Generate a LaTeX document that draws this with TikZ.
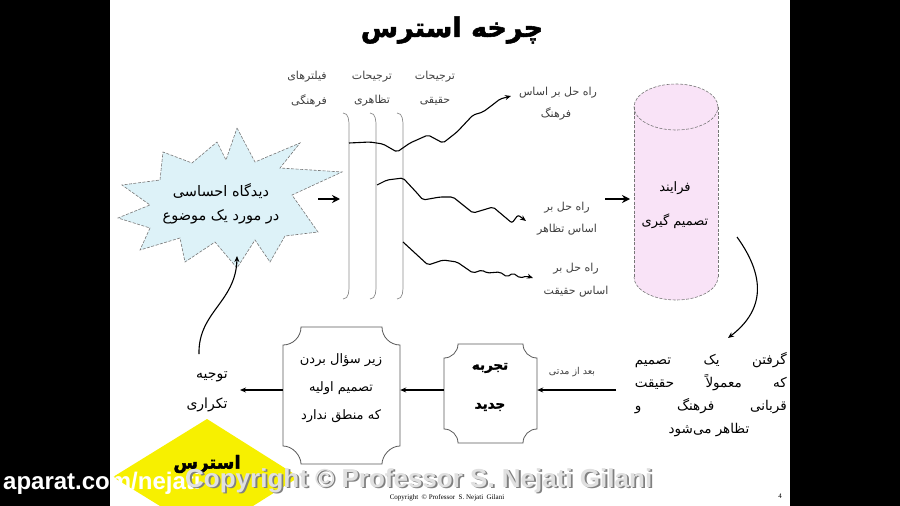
\documentclass[tikz,border=0pt]{standalone}
\usepackage{fontspec}
\usetikzlibrary{arrows.meta,shapes.geometric}
\TeXXeTstate=1
\newfontfamily\fa[Script=Arabic]{DejaVu Sans}
\newfontfamily\faheavy[Script=Arabic,FakeBold=2]{DejaVu Sans Bold}
\newfontfamily\wmfont{Liberation Sans}
\newfontfamily\ftfont{Liberation Serif}
\newcommand\myR[1]{\beginR #1\endR}
\definecolor{starfill}{HTML}{DDF2F8}
\definecolor{cylfill}{HTML}{F9E3F7}
\definecolor{diay}{HTML}{F7F000}
\definecolor{edgegray}{HTML}{777777}
\begin{document}
\begin{tikzpicture}[x=1pt,y=-1pt,
  fatxt/.style={font=\fa\fontsize{#1}{#1}\selectfont, inner sep=0pt, text=black},
  fatxt/.default=10,
  graytxt/.style={font=\fa\fontsize{#1}{#1}\selectfont, inner sep=0pt, text=black!75},
  graytxt/.default=11,
  bigarrow/.style={line width=2.2pt, -{Stealth[length=8pt,width=8pt]}},
  thinarrow/.style={line width=1.1pt, -{Stealth[length=6pt,width=5pt]}},
  wave/.style={line width=1.1pt, rounded corners=2pt, -{Stealth[length=6pt,width=5pt]}},
  filterline/.style={draw=black!45, line width=0.7pt},
  outlinegray/.style={draw=edgegray, line width=0.6pt, dashed, dash pattern=on 3pt off 1.5pt}
]
\useasboundingbox (0,0) rectangle (900,506);
% frame
\fill[black] (0,0) rectangle (900,506);
\fill[white] (110,0) rectangle (790,506);

% title
\node[font=\faheavy\fontsize{27}{30}\selectfont, inner sep=0pt] (title) at (452,30) {\myR{چرخه استرس}};

% starburst
\path[fill=starfill, outlinegray]
 (237,128) -- (255,162) -- (300,143) -- (280,168) -- (342,172) -- (292,195)
 -- (318,232) -- (285,236) -- (270,262) -- (255,240) -- (237,268) -- (215,242)
 -- (185,262) -- (180,238) -- (140,250) -- (150,228) -- (118,218) -- (150,205)
 -- (122,185) -- (160,180) -- (163,152) -- (192,163) -- (217,142) -- (226,160) -- cycle;
\node[fatxt=14.5] (star1) at (221,191) {\myR{دیدگاه احساسی}};
\node[fatxt=14.5] (star2) at (221,217) {\myR{در مورد یک موضوع}};
\coordinate (starR) at (318,199);
\coordinate (starB) at (237,256);

% filter labels
\node[graytxt] (f1a) at (435,77) {\myR{ترجیحات}};
\node[graytxt] (f1b) at (435,101) {\myR{حقیقی}};
\node[graytxt] (f2a) at (372,77) {\myR{ترجیحات}};
\node[graytxt] (f2b) at (372,101) {\myR{تظاهری}};
\node[graytxt] (f3a) at (307,77) {\myR{فیلترهای}};
\node[graytxt] (f3b) at (309,101) {\myR{فرهنگی}};

% filter lines
\foreach \xx in {349,376,403}{
  \draw[filterline] (\xx-6,113) to[out=0,in=90] (\xx,127) -- (\xx,284) to[out=-90,in=0] (\xx-6,299);
}
\coordinate (filtL) at (340,199);
\draw[bigarrow] (starR) -- (filtL);

% waves
\coordinate (w1s) at (349,143);
\coordinate (w1e) at (511,96);
\coordinate (w2s) at (377,185);
\coordinate (w2e) at (526,221);
\coordinate (w3s) at (403,242);
\coordinate (w3e) at (533,278);
\draw[wave] (w1s) -- (370,142) -- (383,144) -- (397,152) -- (410,143) -- (428,135) -- (443,143)
  -- (457,132) -- (473,115) -- (483,112) -- (495,103) -- (500,99) -- (w1e);
\draw[wave] (w2s) -- (387,180) -- (403,178) -- (417,193) -- (423,200) -- (440,197) -- (453,197)
  -- (473,213) -- (493,207) -- (512,223) -- (518,215) -- (w2e);
\draw[wave] (w3s) -- (428,265) -- (443,260) -- (457,262) -- (473,273) -- (482,270) -- (487,273)
  -- (500,272) -- (507,277) -- (513,273) -- (520,278) -- (527,276) -- (w3e);

% solution labels
\node[graytxt] (s1a) at (558,93) {\myR{راه حل بر اساس}};
\node[graytxt] (s1b) at (556,114) {\myR{فرهنگ}};
\node[graytxt] (s2a) at (567,208) {\myR{راه حل بر}};
\node[graytxt] (s2b) at (567,230) {\myR{اساس تظاهر}};
\node[graytxt] (s3a) at (576,269) {\myR{راه حل بر}};
\node[graytxt] (s3b) at (576,292) {\myR{اساس حقیقت}};

% cylinder
\fill[cylfill] (634,107) rectangle (718,277);
\fill[cylfill] (676,277) ellipse [x radius=42pt, y radius=23pt];
\fill[cylfill] (676,107) ellipse [x radius=42pt, y radius=23pt];
\draw[outlinegray] (676,107) ellipse [x radius=42pt, y radius=23pt];
\draw[outlinegray] (634,107) -- (634,277);
\draw[outlinegray] (718,107) -- (718,277);
\begin{scope}
  \clip (620,277) rectangle (730,310);
  \draw[outlinegray] (676,277) ellipse [x radius=42pt, y radius=23pt];
\end{scope}
\node[fatxt=13] (cyl1) at (675,188) {\myR{فرایند}};
\node[fatxt=13] (cyl2) at (675,221) {\myR{تصمیم گیری}};
\coordinate (cylL) at (630,199);
\coordinate (solR) at (605,199);
\draw[bigarrow] (solR) -- (cylL);
\coordinate (cylR) at (737,237);

% right paragraph
\node[fatxt=13.5, anchor=east] (p1) at (787,360) {\hbox to 152pt{\myR{گرفتن\hfill یک\hfill تصمیم}}};
\node[fatxt=13.5, anchor=east] (p2) at (787,383) {\hbox to 152pt{\myR{که\hfill معمولاً\hfill حقیقت}}};
\node[fatxt=13.5, anchor=east] (p3) at (787,406) {\hbox to 152pt{\myR{قربانی\hfill فرهنگ\hfill و}}};
\node[fatxt=13.5] (p4) at (709,430) {\myR{تظاهر می‌شود}};
\coordinate (paraT) at (728,338);
\draw[line width=1.1pt, -{Stealth[length=6pt,width=5pt]}] (cylR) .. controls (768,280) and (762,312) .. (paraT);

% after a while
\node[graytxt=9.5] (after) at (572,372) {\myR{بعد از مدتی}};
\coordinate (paraL) at (616,390);

% experience box
\node[minimum width=93pt, minimum height=99pt, inner sep=0pt] (exp) at (490.5,393.5) {};
\draw[draw=black!65, line width=0.8pt, fill=white]
 (458,344) -- (523,344) .. controls (523,351.7) and (529.3,358) .. (537,358) -- (537,429)
 .. controls (529.3,429) and (523,435.3) .. (523,443) -- (458,443)
 .. controls (458,435.3) and (451.7,429) .. (444,429) -- (444,358)
 .. controls (451.7,358) and (458,351.7) .. (458,344) -- cycle;
\node[font=\faheavy\fontsize{13.5}{14}\selectfont, inner sep=0pt] (exp1) at (490,368) {\myR{تجربه}};
\node[font=\faheavy\fontsize{13.5}{14}\selectfont, inner sep=0pt] (exp2) at (490,407) {\myR{جدید}};
\draw[thinarrow] (paraL) -- (exp.east |- paraL);

% question box
\node[minimum width=117pt, minimum height=137pt, inner sep=0pt] (qbox) at (341.5,395.5) {};
\draw[draw=black!65, line width=0.8pt, fill=white]
 (301,327) -- (382,327) .. controls (382,336.9) and (390.1,345) .. (400,345) -- (400,446)
 .. controls (390.1,446) and (382,455.9) .. (382,464) -- (301,464)
 .. controls (301,455.9) and (292.9,446) .. (283,446) -- (283,345)
 .. controls (292.9,345) and (301,336.9) .. (301,327) -- cycle;
\node[fatxt=13] (q1) at (341,360) {\myR{زیر سؤال بردن}};
\node[fatxt=13] (q2) at (341,388) {\myR{تصمیم اولیه}};
\node[fatxt=13] (q3) at (341,416) {\myR{که منطق ندارد}};
\draw[thinarrow] (exp.west |- paraL) -- (qbox.east |- paraL);

% justification
\node[fatxt=14] (j1) at (212,377) {\myR{توجیه}};
\node[fatxt=14] (j2) at (207,405) {\myR{تکراری}};
\coordinate (jR) at (240,390);
\draw[thinarrow] (qbox.west |- paraL) -- (jR);
\coordinate (jT) at (199,354);
\draw[line width=1.1pt, -{Stealth[length=6pt,width=5pt]}] (jT) .. controls (198,312) and (236,302) .. (starB);

% stress diamond
\fill[diay] (207,419) -- (299,477) -- (207,535) -- (113,477) -- cycle;
\node[font=\faheavy\fontsize{18}{20}\selectfont, inner sep=0pt] (stress) at (207,464) {\myR{استرس}};

% footer
\node[font=\ftfont\fontsize{7}{8}\selectfont, inner sep=0pt] (foot) at (447,498) {Copyright \ © Professor \ S. Nejati \ Gilani};
\node[font=\ftfont\fontsize{7}{8}\selectfont, inner sep=0pt] (pnum) at (780,496) {4};

% video watermark
\node[font=\wmfont\bfseries\fontsize{24}{25}\selectfont, text=white, anchor=base west, inner sep=0pt] (apar) at (3,489) {aparat.com/nejati};
\node[font=\wmfont\bfseries\fontsize{26}{27}\selectfont, text=black!50, anchor=base west, inner sep=0pt] (cpy0) at (186.8,488.5) {Copyright © Professor S. Nejati Gilani};
\node[font=\wmfont\bfseries\fontsize{26}{27}\selectfont, text=black!12, anchor=base west, inner sep=0pt] (cpy) at (185,487) {Copyright © Professor S. Nejati Gilani};
\end{tikzpicture}
\end{document}
